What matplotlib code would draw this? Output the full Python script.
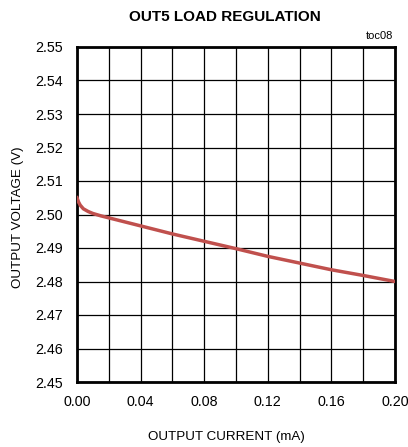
import matplotlib
matplotlib.use("Agg")
import matplotlib.pyplot as plt

plt.rcParams['font.family'] = ['Liberation Sans', 'DejaVu Sans']

current_mA = [0.0, 0.001, 0.002, 0.004, 0.007, 0.01, 0.015, 0.02, 0.03, 0.04,
              0.06, 0.08, 0.10, 0.12, 0.14, 0.16, 0.18, 0.20]
voltage_V = [2.5050, 2.5037, 2.5028, 2.5017, 2.5009, 2.5003, 2.4996, 2.4990,
             2.4978, 2.4966, 2.4942, 2.4920, 2.4898, 2.4875, 2.4855, 2.4835,
             2.4818, 2.4800]
xticks = [0.00, 0.04, 0.08, 0.12, 0.16, 0.20]
xtick_labels = ["0.00", "0.04", "0.08", "0.12", "0.16", "0.20"]
yticks = [2.45, 2.46, 2.47, 2.48, 2.49, 2.50, 2.51, 2.52, 2.53, 2.54, 2.55]
ytick_labels = ["%.2f" % v for v in yticks]

fig = plt.figure(figsize=(4.08, 4.47), dpi=100)
ax = fig.add_axes([77/408, 1-382/447, 318/408, 335/447])
ax.set_xlim(0, 0.2)
ax.set_ylim(2.45, 2.55)
ax.set_xticks([i*0.02 for i in range(11)], minor=True)
ax.set_xticks(xticks)
ax.set_xticklabels(xtick_labels)
ax.set_yticks(yticks)
ax.set_yticklabels(ytick_labels)
ax.grid(True, which='both', color='black', linewidth=0.9)
ax.tick_params(which='both', length=0, labelsize=10.3)
ax.tick_params(axis='x', pad=9.6)
ax.tick_params(axis='y', pad=10.3)
for s in ax.spines.values():
    s.set_linewidth(2)
ax.plot(current_mA, voltage_V, color='#c0504d', linewidth=2.5, zorder=3)
ax.set_xlabel("OUTPUT CURRENT (mA)", fontsize=9.6, va='center')
ax.xaxis.set_label_coords((226-77)/318, -(437-382)/335)
ax.set_ylabel("OUTPUT VOLTAGE (V)", fontsize=9.6, va='center')
ax.yaxis.set_label_coords(-(77-18)/318, (382-217)/335)
fig.text(225/408, 1-17/447, "OUT5 LOAD REGULATION", ha='center', va='center',
         fontsize=11, fontweight='bold')
fig.text(393/408, 1-36/447, "toc08", ha='right', va='center', fontsize=8)
fig.savefig("out.png", dpi=100)
